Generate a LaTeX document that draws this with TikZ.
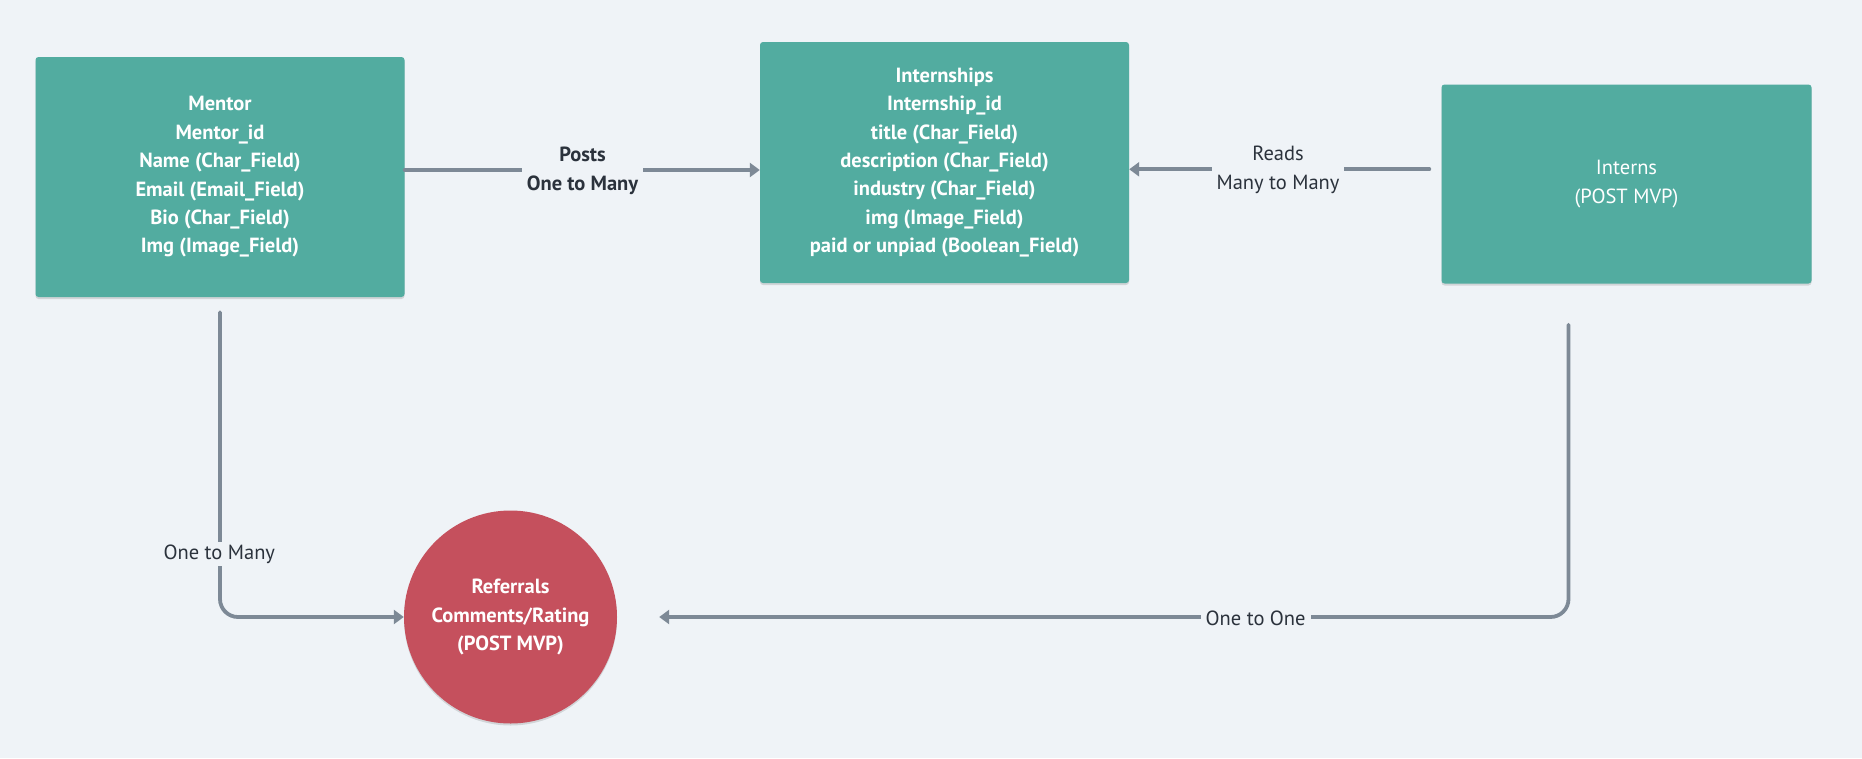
\documentclass[tikz,border=0pt]{standalone}
\usepackage{fontspec}
\setmainfont{PT Sans}
\usetikzlibrary{arrows.meta,shadows}
\definecolor{bgc}{HTML}{EFF3F7}
\definecolor{teal}{HTML}{52ACA0}
\definecolor{redc}{HTML}{C5505D}
\definecolor{linec}{HTML}{7D8996}
\definecolor{darkt}{HTML}{2B323C}
\tikzset{
  entity/.style={rectangle, rounded corners=3pt, fill=teal, text=white, align=center,
    inner sep=0pt, drop shadow={shadow xshift=0pt, shadow yshift=-2pt, opacity=0.12, fill=black},
    font=\bfseries\fontsize{20.5}{28.4}\selectfont},
  circ/.style={circle, fill=redc, text=white, align=center, inner sep=0pt,
    minimum size=213pt, drop shadow={shadow xshift=0pt, shadow yshift=-2pt, opacity=0.12, fill=black},
    font=\bfseries\fontsize{20.5}{28.4}\selectfont},
  conn/.style={draw=linec, line width=3.8pt, line cap=round, rounded corners=18pt,
    -{Triangle[length=10pt,width=14pt]}},
  lbl/.style={fill=bgc, text=darkt, align=center, inner xsep=5pt, inner ysep=3pt,
    font=\fontsize{20.5}{28.4}\selectfont},
  lblb/.style={lbl, font=\bfseries\fontsize{20.5}{28.4}\selectfont}
}
\begin{document}
\begin{tikzpicture}[x=1pt,y=-1pt]
\fill[bgc] (0,0) rectangle (1862,758);
\useasboundingbox (0,0) rectangle (1862,758);

\node[entity, minimum width=369pt, minimum height=240pt] (mentor) at (220,177)
  {Mentor\\Mentor\_id\\Name (Char\_Field)\\Email (Email\_Field)\\Bio (Char\_Field)\\Img (Image\_Field)};
\node[entity, minimum width=369pt, minimum height=241pt] (intern) at (944.5,162.5)
  {Internships\\Internship\_id\\title (Char\_Field)\\description (Char\_Field)\\industry (Char\_Field)\\img (Image\_Field)\\paid or unpiad (Boolean\_Field)};
\node[entity, minimum width=370pt, minimum height=199pt, font=\fontsize{20.5}{28.4}\selectfont] (interns) at (1626.5,184)
  {Interns\\(POST MVP)};
\node[circ] (ref) at (510.5,617) {Referrals\\Comments/Rating\\(POST MVP)};

\coordinate (posty) at (0,170);
\coordinate (ready) at (0,169.3);
\coordinate (rs) at ([xshift=-12pt]interns.west |- ready);
\coordinate (m1) at ([yshift=-15pt]mentor.south);
\coordinate (i1) at ([xshift=-58pt,yshift=-41pt]interns.south);
\coordinate (r1) at ([xshift=42pt]ref.east);

\draw[conn] (mentor.east |- posty) -- (intern.west |- posty);
\node[lblb] (lposts) at (582.5,171) {Posts\\One to Many};

\draw[conn] (rs) -- (intern.east |- ready);
\node[lbl] (lreads) at (1278,170) {Reads\\Many to Many};

\draw[conn] (m1) |- (ref.west);
\node[lbl] (lm) at (219.3,554) {One to Many};

\draw[conn] (i1) |- (r1);
\node[lbl] (li) at (1255.6,618) {One to One};
\end{tikzpicture}
\end{document}
